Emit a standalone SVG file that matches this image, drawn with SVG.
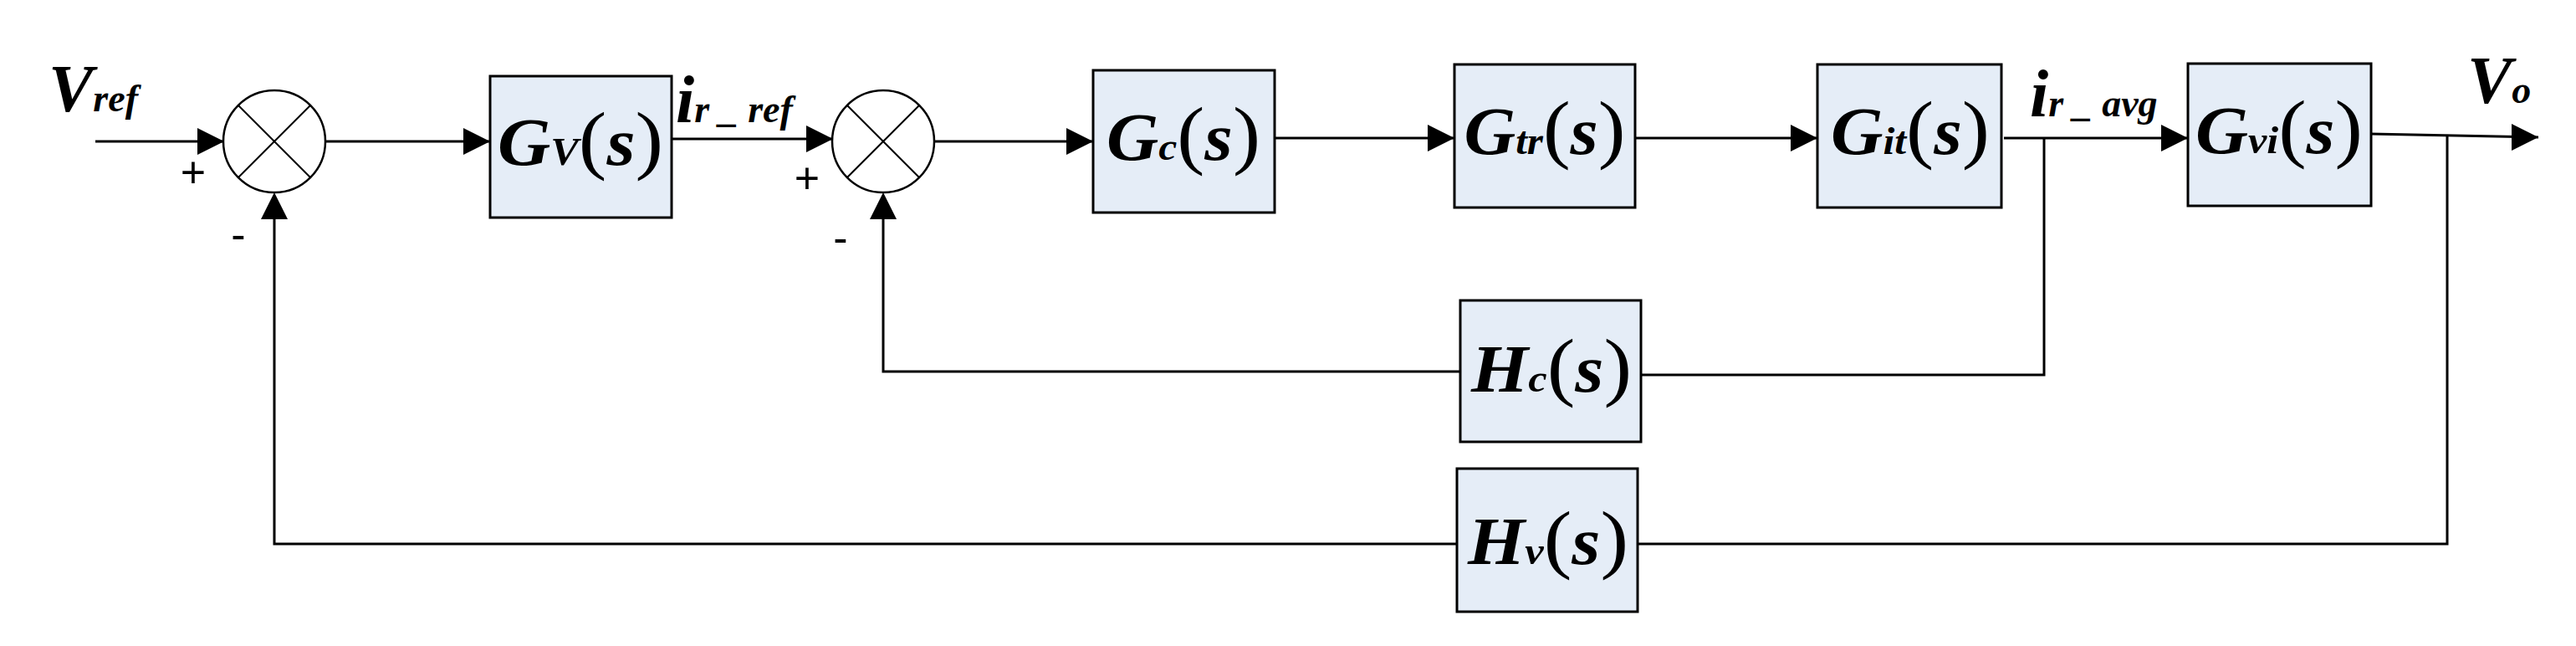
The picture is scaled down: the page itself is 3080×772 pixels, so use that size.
<svg xmlns="http://www.w3.org/2000/svg" width="3080" height="772" viewBox="0 0 3080 772">
<style>
.box{fill:#e5edf7;stroke:#000;stroke-width:3}
.ln{fill:none;stroke:#000;stroke-width:3}
.sum{fill:#fff;stroke:#000;stroke-width:2.5}
.sx{stroke:#000;stroke-width:2}
.ar{fill:#000}
.t{font-family:"Liberation Serif",serif;font-weight:bold;font-style:italic;font-size:80px}
.sub{font-size:46px}
.par{font-style:normal;font-weight:normal;font-size:92px}
.sg{font-family:"Liberation Sans",sans-serif;font-size:52px}
</style>
<g id="connectors">
<path class="ln" d="M114,169 H268"/><polygon class="ar" points="268,169 236,153 236,185"/>
<path class="ln" d="M389,169 H586"/><polygon class="ar" points="586,169 554,153 554,185"/>
<path class="ln" d="M803,166 H996"/><polygon class="ar" points="996,166 964,150 964,182"/>
<path class="ln" d="M1117,169 H1307"/><polygon class="ar" points="1307,169 1275,153 1275,185"/>
<path class="ln" d="M1524,165 H1739"/><polygon class="ar" points="1739,165 1707,149 1707,181"/>
<path class="ln" d="M1955,165 H2173"/><polygon class="ar" points="2173,165 2141,149 2141,181"/>
<path class="ln" d="M2396,165 H2616"/><polygon class="ar" points="2616,165 2584,149 2584,181"/>
<path class="ln" d="M2835,160 L3035,164"/><polygon class="ar" points="3035,164 3003,148 3003,180"/>
<path class="ln" d="M2444,165 V448 H1962"/>
<path class="ln" d="M1746,444 H1056 V262"/><polygon class="ar" points="1056,230 1040,262 1072,262"/>
<path class="ln" d="M2926,161 V650 H1958"/>
<path class="ln" d="M1742,650 H328 V262"/><polygon class="ar" points="328,230 312,262 344,262"/>
</g>
<g id="sum1"><ellipse class="sum" cx="328" cy="169" rx="61" ry="61"/><path class="sx" d="M285,126 L371,212 M371,126 L285,212"/></g>
<g id="sum2"><ellipse class="sum" cx="1056" cy="169" rx="61" ry="61"/><path class="sx" d="M1013,126 L1099,212 M1099,126 L1013,212"/></g>
<g id="signs">
<text class="sg" x="231" y="224" text-anchor="middle">+</text>
<text class="sg" x="285" y="298" text-anchor="middle">-</text>
<text class="sg" x="965" y="231" text-anchor="middle">+</text>
<text class="sg" x="1005" y="302" text-anchor="middle">-</text>
</g>
<g id="Gv"><rect class="box" x="586" y="91" width="217" height="169"/><text class="t" x="694" y="197" text-anchor="middle" textLength="198" lengthAdjust="spacingAndGlyphs">G<tspan class="sub">V</tspan><tspan class="par">(</tspan>s<tspan class="par">)</tspan></text></g>
<g id="Gc"><rect class="box" x="1307" y="84" width="217" height="170"/><text class="t" x="1415" y="191" text-anchor="middle" textLength="184" lengthAdjust="spacingAndGlyphs">G<tspan class="sub">c</tspan><tspan class="par">(</tspan>s<tspan class="par">)</tspan></text></g>
<g id="Gtr"><rect class="box" x="1739" y="77" width="216" height="171"/><text class="t" x="1847" y="184" text-anchor="middle" textLength="193" lengthAdjust="spacingAndGlyphs">G<tspan class="sub">tr</tspan><tspan class="par">(</tspan>s<tspan class="par">)</tspan></text></g>
<g id="Git"><rect class="box" x="2173" y="77" width="220" height="171"/><text class="t" x="2284" y="184" text-anchor="middle" textLength="190" lengthAdjust="spacingAndGlyphs">G<tspan class="sub">it</tspan><tspan class="par">(</tspan>s<tspan class="par">)</tspan></text></g>
<g id="Gvi"><rect class="box" x="2616" y="76" width="219" height="170"/><text class="t" x="2725" y="183" text-anchor="middle" textLength="200" lengthAdjust="spacingAndGlyphs">G<tspan class="sub">vi</tspan><tspan class="par">(</tspan>s<tspan class="par">)</tspan></text></g>
<g id="Hc"><rect class="box" x="1746" y="359" width="216" height="169"/><text class="t" x="1855" y="468" text-anchor="middle" textLength="192" lengthAdjust="spacingAndGlyphs">H<tspan class="sub">c</tspan><tspan class="par">(</tspan>s<tspan class="par">)</tspan></text></g>
<g id="Hv"><rect class="box" x="1742" y="560" width="216" height="171"/><text class="t" x="1851" y="674" text-anchor="middle" textLength="192" lengthAdjust="spacingAndGlyphs">H<tspan class="sub">v</tspan><tspan class="par">(</tspan>s<tspan class="par">)</tspan></text></g>
<g id="labels">
<text class="t" x="58" y="133">V<tspan class="sub">ref</tspan></text>
<text class="t" x="2950" y="123">V<tspan class="sub">o</tspan></text>
<text class="t" x="808" y="146">i<tspan class="sub">r _ ref</tspan></text>
<text class="t" x="2427" y="139">i<tspan class="sub">r _ avg</tspan></text>
</g>
</svg>
